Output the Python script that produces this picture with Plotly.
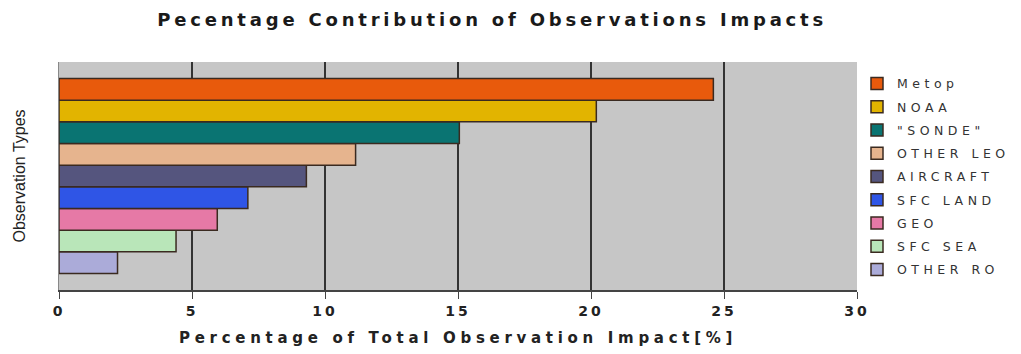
import plotly.graph_objects as go

# Data (top to bottom as in the legend)
obs_types = ["Metop", "NOAA", "\"SONDE\"", "OTHER LEO", "AIRCRAFT",
             "SFC LAND", "GEO", "SFC SEA", "OTHER RO"]
impact_pct = [24.6, 20.2, 15.05, 11.15, 9.3, 7.1, 5.95, 4.4, 2.2]
colors = ["#E85A0C", "#E2B400", "#0A7472", "#E6B48E", "#55557E",
          "#2F55E6", "#E679A6", "#B9E6B9", "#ABABD9"]
x_ticks = [0, 5, 10, 15, 20, 25, 30]

WIDE = "DejaVu Sans, Verdana, sans-serif"


def spaced(txt, px):
    return f'<span style="letter-spacing:{px}px">{txt}</span>'


fig = go.Figure()
# add bottom-most first (grouped horizontal bars stack upward)
for i in reversed(range(len(obs_types))):
    fig.add_trace(go.Bar(
        x=[impact_pct[i]], y=[0], orientation="h",
        name=spaced(obs_types[i], 4.5), legendgroup=obs_types[i],
        legendrank=i + 1,
        marker=dict(color=colors[i], line=dict(color="#3a2a20", width=1.5)),
    ))

fig.update_layout(
    width=1021, height=354,
    margin=dict(l=59, r=164, t=62, b=64, autoexpand=False),
    paper_bgcolor="white", plot_bgcolor="#C6C6C6",
    barmode="group", bargap=0.145,
    font=dict(family="Liberation Sans, Arial, sans-serif", color="#222222"),
    title=dict(text="<b>" + spaced("Pecentage Contribution of Observations Impacts", 3.8) + "</b>",
               x=0.482, xref="container", xanchor="center",
               y=1 - 20/354, yref="container", yanchor="middle",
               font=dict(size=18, color="#1a1a1a", family=WIDE)),
    xaxis=dict(range=[0, 30], tickvals=x_ticks,
               ticktext=["<b>" + spaced(str(v), 3) + "</b>" for v in x_ticks],
               showgrid=True, gridcolor="#333333", gridwidth=2,
               zeroline=False, showline=True, linecolor="#444444", linewidth=2,
               ticks="outside", ticklen=7, tickcolor="#444444",
               tickfont=dict(size=14, color="#222222", family=WIDE),
               title=dict(text="<b>" + spaced("Percentage of Total Observation Impact[%]", 4.7) + "</b>",
                          font=dict(size=15, color="#222222", family=WIDE), standoff=15)),
    yaxis=dict(range=[-0.5, 0.5], showticklabels=False, showgrid=False,
               zeroline=False, showline=True, linecolor="#888888", linewidth=1,
               title=dict(text="Observation Types",
                          font=dict(size=16, color="#222222"), standoff=28)),
    showlegend=True,
    legend=dict(traceorder="grouped", x=1.0, xanchor="left",
                y=0.97, yanchor="top", tracegroupgap=4,
                font=dict(size=12.5, color="#333333", family=WIDE),
                bgcolor="rgba(0,0,0,0)"),
)

fig.write_html("out.html")
